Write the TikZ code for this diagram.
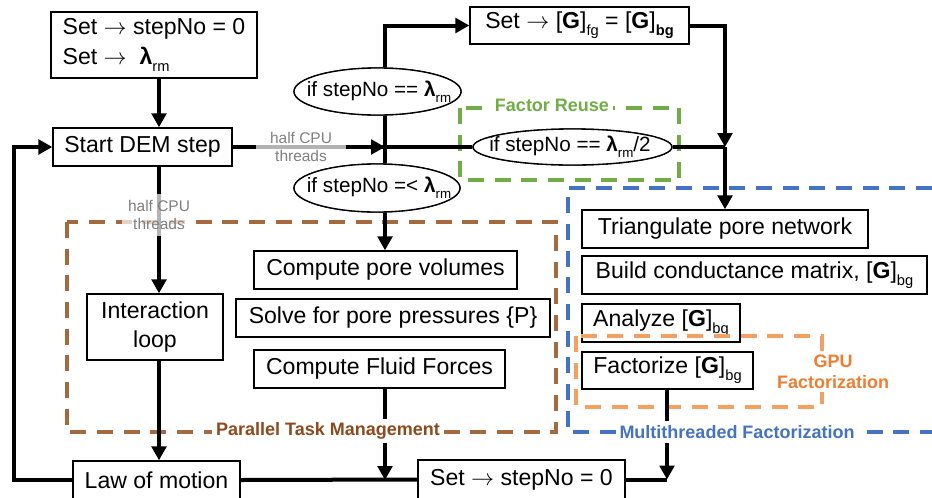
\documentclass[tikz,border=0pt]{standalone}
\usepackage{fontspec}
\setmainfont{Liberation Sans}
\usetikzlibrary{arrows.meta,shapes.geometric}
\definecolor{cbrown}{HTML}{A5693F}
\definecolor{cbrowntxt}{HTML}{8C4A1E}
\definecolor{cgreen}{HTML}{70AD47}
\definecolor{cblue}{HTML}{4472C4}
\definecolor{corange}{HTML}{F4A060}
\definecolor{corangetxt}{HTML}{ED7D31}
\definecolor{cgray}{HTML}{7F7F7F}
\newcommand\sbx[2][11]{\raisebox{-0.3em}{\fontsize{#1}{#1}\selectfont #2}}
\newcommand\lam[1][11]{\textbf{λ}\sbx[#1]{rm}}
\newcommand\Gm{[\textbf{G}]}
\newcommand\ra{$\rightarrow$}
\begin{document}
\begin{tikzpicture}[x=0.75pt,y=-0.75pt,
 box/.style={draw, line width=1pt, fill=white, inner sep=0pt, font=\fontsize{17.3}{21}\selectfont, align=center, minimum height=28.5pt},
 ell/.style={draw, ellipse, line width=1pt, fill=white, inner sep=0pt},
 etext/.style={font=\fontsize{15.5}{18}\selectfont, inner sep=0pt},
 flow/.style={line width=3pt},
 arr/.style={flow, -{Triangle[length=10.5pt,width=11pt]}},
 dsh/.style={line width=3pt, dash pattern=on 12pt off 8pt},
 glab/.style={font=\fontsize{11.6}{13.5}\selectfont, text=cgray, fill=white, fill opacity=0.7, text opacity=1, align=center, inner sep=1pt},
 clab/.style={font=\fontsize{13.5}{16}\selectfont\bfseries, fill=white, inner sep=3pt, align=center}
]
\useasboundingbox (0,0) rectangle (932,497);

% dashed groups
\draw[dsh, cbrown] (67,222) rectangle (556,432);
\draw[dsh, cblue] (932,188) -- (568,188) -- (568,432) -- (932,432);
\draw[dsh, cgreen] (460,108) rectangle (679,180);

% helper coordinates
\coordinate (vL) at (159,0);
\coordinate (vM) at (385,0);
\coordinate (vR) at (725,0);
\coordinate (vF) at (667,0);
\coordinate (lp) at (14,147);

% boxes
\node[box, align=left, minimum width=154.5pt, minimum height=49.5pt] (b1) at (154,45) {Set \ra{} stepNo = 0\\[1pt]Set \ra{} \ \lam};
\node[box, minimum width=134.25pt] (start) at (142.5,147) {Start DEM step};
\node[box, minimum width=102pt, minimum height=49.5pt] (inter) at (155,327) {Interaction\\[1pt]loop};
\node[box, minimum width=125.25pt] (law) at (156.5,480) {Law of motion};
\node[box, minimum width=164.25pt, minimum height=27.75pt] (setG) at (579.5,25.5) {Set \ra{} \Gm\sbx{fg} = \Gm\sbx{\bfseries bg}};
\node[box, minimum width=197.25pt] (pv) at (385.5,270) {Compute pore volumes};
\node[box, minimum width=235.5pt] (sp) at (393,318) {Solve for pore pressures \{P\}};
\node[box, minimum width=188.25pt] (ff) at (379.5,369) {Compute Fluid Forces};
\node[box, minimum width=214.5pt] (tri) at (725,229) {Triangulate pore network};
\node[box, minimum width=258.75pt] (bcm) at (754.5,275) {Build conductance matrix, \Gm\sbx{bg}};
\node[box, minimum width=118.5pt] (an) at (661,323) {Analyze \Gm\sbx{bg}};
\node[box, minimum width=128.25pt, minimum height=27.75pt] (fac) at (667.5,370.5) {Factorize \Gm\sbx{bg}};
\node[box, minimum width=155.25pt, minimum height=29.25pt] (set0) at (521.5,479.5) {Set \ra{} stepNo = 0};

\draw[dsh, corange] (576,336) rectangle (822,407);

% connectors
\draw[arr] (b1.south -| vL) -- (start.north -| vL);
\draw[arr] (start.south -| vL) -- (inter.north -| vL);
\draw[arr] (inter.south -| vL) -- (law.north -| vL);
\draw[arr] (law.west) -| (lp) -- (start.west);
\draw[flow] (law.east) -- (set0.west);
\draw[flow] (set0.east) -- (set0.east -| vF);
\draw[arr] (fac.south -| vF) -- (vF |- set0.east);
\draw[arr] (ff.south -| vM) -- (vM |- law.east);

\node[ell, minimum width=149.25pt, minimum height=27pt] (e3) at (572.5,147) {};
\draw[flow] (start.east) -- (e3.west);
\draw[arr] (start.east) -- (start.east -| vM);
\draw[flow] (e3.east) -- (e3.east -| vR);
\draw[arr] (setG.east) -| (vR |- e3.east);
\draw[arr] (vR |- e3.east) -- (tri.north -| vR);

\node[ell, minimum width=125.25pt, minimum height=35.25pt] (e1) at (377.5,91.5) {};
\node[ell, minimum width=124.5pt, minimum height=36pt] (e2) at (377,188) {};
\draw[arr] (e1.north -| vM) |- (setG.west);
\draw[flow] (e1.south -| vM) -- (e2.north -| vM);
\draw[arr] (e2.south -| vM) -- (pv.north -| vM);
\node[ell, minimum width=125.25pt, minimum height=35.25pt] (e1b) at (377.5,91.5) {};
\node[ell, minimum width=124.5pt, minimum height=36pt] (e2b) at (377,188) {};
\node[ell, minimum width=149.25pt, minimum height=27pt] (e3b) at (572.5,147) {};

\node[etext] (e1t) at (379,91.5) {if stepNo == \lam[10]};
\node[etext] (e2t) at (379,188) {if stepNo =< \lam[10]};
\node[etext] (e3t) at (570,147) {if stepNo == \lam[10]/2};

% labels
\node[glab, minimum width=67.5pt] (g1) at (301,147) {half CPU\\threads};
\node[glab, minimum width=56pt, minimum height=32pt] (g2) at (159,215) {half CPU\\threads};
\node[clab, text=cgreen] (lfr) at (552,105) {Factor Reuse};
\node[clab, text=cbrowntxt] (lpt) at (328,431) {Parallel Task Management};
\node[clab, text=cblue] (lmf) at (737,432) {Multithreaded Factorization};
\node[clab, text=corangetxt, inner sep=2pt] (lgpu) at (833,372) {GPU\\Factorization};
\end{tikzpicture}
\end{document}
